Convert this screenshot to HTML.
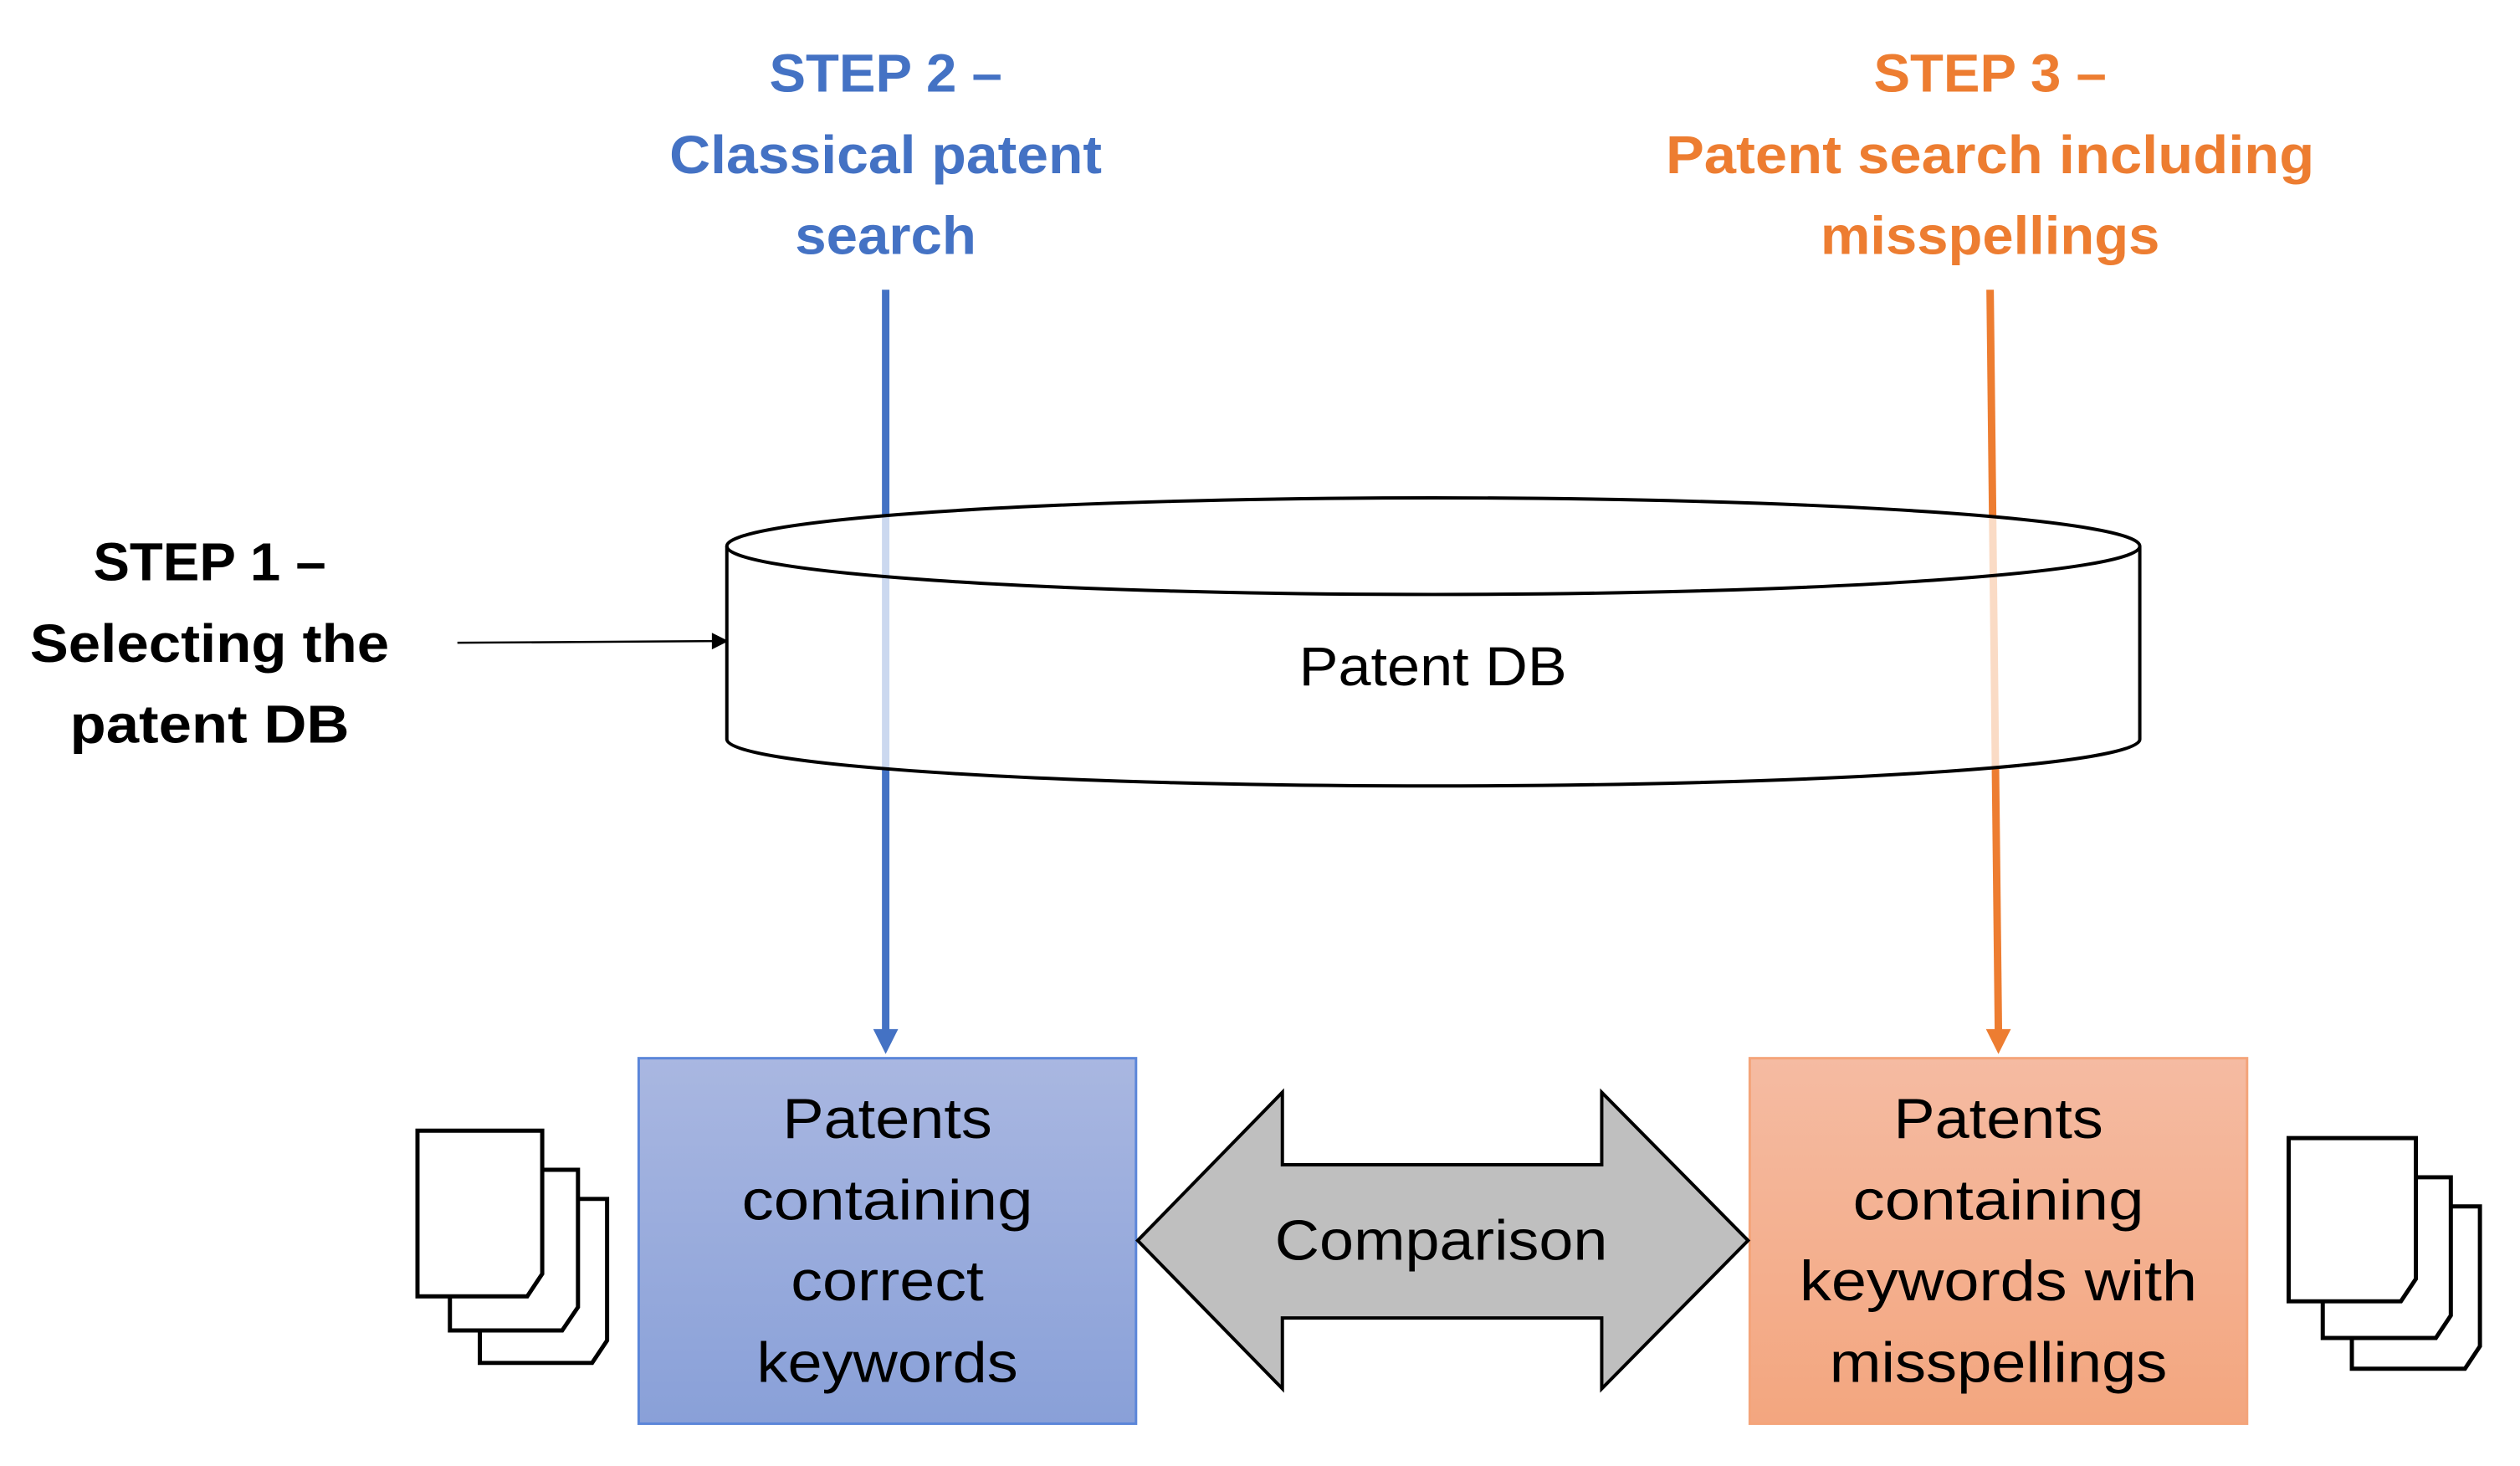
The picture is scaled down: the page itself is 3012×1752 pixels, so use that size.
<!DOCTYPE html>
<html><head><meta charset="utf-8"><style>
html,body{margin:0;padding:0;background:#fff;}
svg{display:block;}
text{font-family:"Liberation Sans",sans-serif;}
</style></head><body>
<svg width="3012" height="1752" viewBox="0 0 3012 1752" xmlns="http://www.w3.org/2000/svg">
<defs>
<linearGradient id="gb" x1="0" y1="0" x2="0" y2="1"><stop offset="0" stop-color="#A9B7E1"/><stop offset="1" stop-color="#89A0D8"/></linearGradient>
<linearGradient id="go" x1="0" y1="0" x2="0" y2="1"><stop offset="0" stop-color="#F5BBA2"/><stop offset="1" stop-color="#F3A67F"/></linearGradient>
</defs>
<rect width="3012" height="1752" fill="#fff"/>
<g transform="scale(0.994,0.995)">
<g font-weight="bold" font-size="64" text-anchor="middle" fill="#4472C4">
<text x="1065" y="110" textLength="280" lengthAdjust="spacingAndGlyphs">STEP 2 –</text>
<text x="1065" y="208" textLength="520" lengthAdjust="spacingAndGlyphs">Classical patent</text>
<text x="1065" y="305" textLength="218" lengthAdjust="spacingAndGlyphs">search</text>
</g>
<g font-weight="bold" font-size="64" text-anchor="middle" fill="#ED7D31">
<text x="2393" y="110" textLength="280" lengthAdjust="spacingAndGlyphs">STEP 3 –</text>
<text x="2393" y="208" textLength="780" lengthAdjust="spacingAndGlyphs">Patent search including</text>
<text x="2393" y="305" textLength="408" lengthAdjust="spacingAndGlyphs">misspellings</text>
</g>
<g font-weight="bold" font-size="64" text-anchor="middle" fill="#000">
<text x="252" y="697" textLength="280" lengthAdjust="spacingAndGlyphs">STEP 1 –</text>
<text x="252" y="795" textLength="432" lengthAdjust="spacingAndGlyphs">Selecting the</text>
<text x="252" y="892" textLength="336" lengthAdjust="spacingAndGlyphs">patent DB</text>
</g>
<line x1="1065" y1="348" x2="1065" y2="1240" stroke="#4472C4" stroke-width="9"/>
<polygon points="1050,1236 1080,1236 1065,1266" fill="#4472C4"/>
<line x1="2393" y1="348" x2="2403" y2="1240" stroke="#ED7D31" stroke-width="9"/>
<polygon points="2388,1236 2418,1236 2403,1266" fill="#ED7D31"/>
<line x1="550" y1="772" x2="862" y2="770" stroke="#000" stroke-width="2.5"/>
<polygon points="856,760 876,770 856,780" fill="#000"/>
<path d="M874,656 A849.5,58 0 0 1 2573,656 L2573,888 A849.5,56 0 0 1 874,888 Z" fill="#fff" fill-opacity="0.72" stroke="none"/>
<path d="M874,656 L874,888 A849.5,56 0 0 0 2573,888 L2573,656" fill="none" stroke="#000" stroke-width="4"/>
<ellipse cx="1723.5" cy="656" rx="849.5" ry="58" fill="none" stroke="#000" stroke-width="4"/>
<text x="1723" y="823" font-size="66" text-anchor="middle" textLength="322" lengthAdjust="spacingAndGlyphs">Patent DB</text>
<rect x="768" y="1271" width="598" height="439" fill="url(#gb)" stroke="#5B86D9" stroke-width="3"/>
<rect x="2104" y="1271" width="598" height="439" fill="url(#go)" stroke="#F4A47A" stroke-width="3"/>
<g font-size="68" text-anchor="middle" fill="#000">
<text x="1067" y="1367" textLength="252" lengthAdjust="spacingAndGlyphs">Patents</text>
<text x="1067" y="1465" textLength="350" lengthAdjust="spacingAndGlyphs">containing</text>
<text x="1067" y="1562" textLength="232" lengthAdjust="spacingAndGlyphs">correct</text>
<text x="1067" y="1660" textLength="314" lengthAdjust="spacingAndGlyphs">keywords</text>
<text x="2403" y="1367" textLength="252" lengthAdjust="spacingAndGlyphs">Patents</text>
<text x="2403" y="1465" textLength="350" lengthAdjust="spacingAndGlyphs">containing</text>
<text x="2403" y="1562" textLength="478" lengthAdjust="spacingAndGlyphs">keywords with</text>
<text x="2403" y="1660" textLength="406" lengthAdjust="spacingAndGlyphs">misspellings</text>
</g>
<polygon points="1368,1490 1542,1312 1542,1399 1926,1399 1926,1312 2102,1490 1926,1668 1926,1583 1542,1583 1542,1668" fill="#BFBFBF" stroke="#000" stroke-width="4"/>
<text x="1733" y="1513" font-size="68" text-anchor="middle" textLength="400" lengthAdjust="spacingAndGlyphs">Comparison</text>
<g fill="#fff" stroke="#000" stroke-width="5">
<path d="M577,1440 L730,1440 L730,1610 L712,1637 L577,1637 Z"/>
<path d="M541,1405 L695,1405 L695,1570 L676,1598 L541,1598 Z"/>
<path d="M502,1358 L652,1358 L652,1530 L634,1557 L502,1557 Z"/>
<path d="M2828,1449 L2982,1449 L2982,1617 L2964,1644 L2828,1644 Z"/>
<path d="M2793,1414 L2947,1414 L2947,1580 L2929,1607 L2793,1607 Z"/>
<path d="M2752,1367 L2905,1367 L2905,1536 L2887,1563 L2752,1563 Z"/>
</g>
</g>
</svg>
</body></html>
